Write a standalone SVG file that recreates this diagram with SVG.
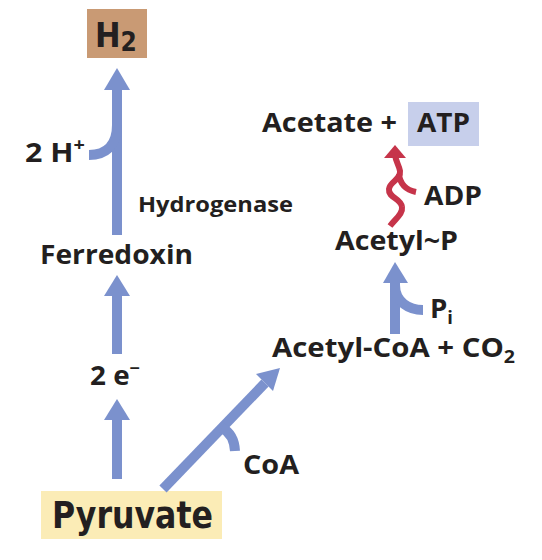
<svg xmlns="http://www.w3.org/2000/svg" width="542" height="560" viewBox="0 0 542 560">
<style>
.t{font-family:"Open Sans","Liberation Sans",sans-serif;font-weight:700;fill:#231f20}
.c{font-family:"DejaVu Sans Condensed","Liberation Sans Narrow",sans-serif;font-weight:700;fill:#231f20}
.bl{stroke:#7b91cd;stroke-width:10;fill:none;stroke-linecap:butt}
.bh{fill:#7b91cd}
.rd{stroke:#c6344a;stroke-width:6;fill:none;stroke-linecap:butt}
.rh{fill:#c6344a}
</style>
<rect width="542" height="560" fill="#ffffff"/>
<g id="H2">
<rect x="87" y="9" width="60" height="49" fill="#c99a74"/>
<text class="c" x="95" y="47" font-size="34">H<tspan font-size="26" dy="4">2</tspan></text>
</g>
<g id="twoHplus"><text class="t" x="25" y="162" font-size="26" textLength="60" lengthAdjust="spacingAndGlyphs">2 H<tspan font-size="17" dy="-11">+</tspan></text></g>
<g id="hydrogenase"><text class="t" x="138" y="212" font-size="21" textLength="155" lengthAdjust="spacingAndGlyphs">Hydrogenase</text></g>
<g id="ferredoxin"><text class="t" x="40" y="264" font-size="27" textLength="153" lengthAdjust="spacingAndGlyphs">Ferredoxin</text></g>
<g id="twoe"><text class="t" x="90" y="385" font-size="26" textLength="50" lengthAdjust="spacingAndGlyphs">2 e<tspan font-size="17" dy="-11">−</tspan></text></g>
<g id="pyruvate">
<rect x="41" y="491" width="181" height="48" fill="#fbecb6"/>
<text class="c" x="52" y="528" font-size="38" textLength="161" lengthAdjust="spacingAndGlyphs">Pyruvate</text>
</g>
<g id="coa"><text class="t" x="243" y="474" font-size="26" textLength="56" lengthAdjust="spacingAndGlyphs">CoA</text></g>
<g id="acetylcoa"><text class="t" x="272" y="357" font-size="27" textLength="243" lengthAdjust="spacingAndGlyphs">Acetyl-CoA + CO<tspan font-size="18" dy="6">2</tspan></text></g>
<g id="pi"><text class="t" x="430" y="318" font-size="27" textLength="23" lengthAdjust="spacingAndGlyphs">P<tspan font-size="18" dy="6">i</tspan></text></g>
<g id="acetylp"><text class="t" x="335" y="250" font-size="27" textLength="123" lengthAdjust="spacingAndGlyphs">Acetyl~P</text></g>
<g id="adp"><text class="t" x="424" y="205" font-size="27" textLength="58" lengthAdjust="spacingAndGlyphs">ADP</text></g>
<g id="acetate">
<rect x="408" y="102" width="71" height="44" fill="#c7cfeb"/>
<text class="t" x="262" y="132" font-size="27" textLength="135" lengthAdjust="spacingAndGlyphs">Acetate +</text>
<text class="t" x="417" y="132" font-size="27" textLength="53" lengthAdjust="spacingAndGlyphs">ATP</text>
</g>
<g id="connectors">
<path class="bl" d="M117 235 V88"/>
<polygon class="bh" points="104,90 130,90 117,68"/>
<path class="bl" d="M89 155 C105 155 117 146 117 125"/>
<path class="bl" d="M117 354 V294"/>
<polygon class="bh" points="104,296 130,296 117,275"/>
<path class="bl" d="M117 479 V418"/>
<polygon class="bh" points="104,420 130,420 117,399"/>
<path class="bl" d="M163 489 L265 383"/>
<polygon class="bh" points="256,374 273,391 280,368"/>
<path class="bl" d="M222 428 Q234 434 235 451"/>
<path class="bl" d="M395 334 V281"/>
<polygon class="bh" points="383,283 408,283 395,262"/>
<path class="bl" d="M395 285 C395 302 409 310 423 310"/>
<path class="rd" d="M390 226 C396 218 403 214 402 207 C401 198 388 198 389 189 C390 181 401 180 400 171 C399 165 396 162 395 155"/>
<polygon class="rh" points="384,158 406,158 395,145"/>
<path class="rd" d="M416 192 C406 190 400 184 399 174"/>
</g>
</svg>
